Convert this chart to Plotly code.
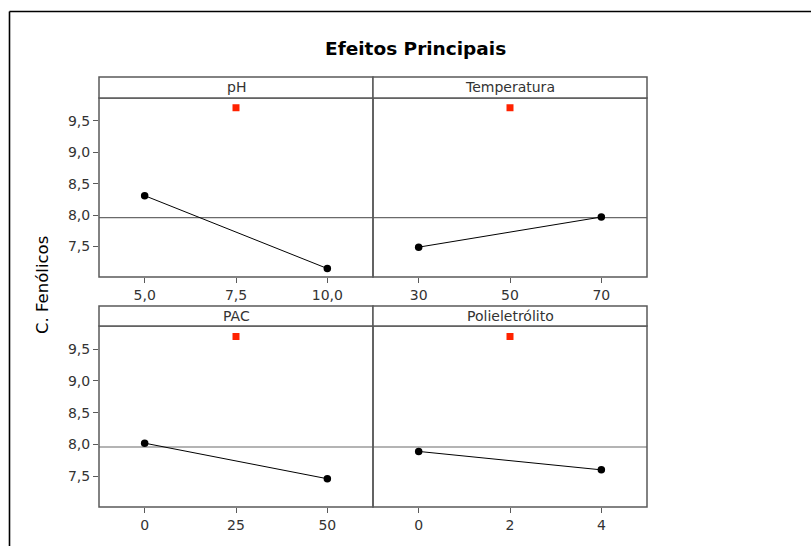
import plotly.graph_objects as go

# Main-effects data: factor levels, mean response at each level, centre-point mean
factors = ["pH", "Temperatura", "PAC", "Polieletrólito"]
ph_levels = [5.0, 10.0]
ph_means = [8.31, 7.15]
temp_levels = [30, 70]
temp_means = [7.49, 7.97]
pac_levels = [0, 50]
pac_means = [8.02, 7.46]
poli_levels = [0, 4]
poli_means = [7.89, 7.60]
center_x = [7.5, 50, 25, 2]
center_y = [9.71, 9.71, 9.70, 9.70]
grand_mean = 7.96

x_tickvals = [[5.0, 7.5, 10.0], [30, 50, 70], [0, 25, 50], [0, 2, 4]]
x_ticktext = [["5,0", "7,5", "10,0"], ["30", "50", "70"], ["0", "25", "50"], ["0", "2", "4"]]
y_tickvals = [7.5, 8.0, 8.5, 9.0, 9.5]
y_ticktext = ["7,5", "8,0", "8,5", "9,0", "9,5"]
y_label = "C. Fenólicos"
title = "Efeitos Principais"

levels = [ph_levels, temp_levels, pac_levels, poli_levels]
means = [ph_means, temp_means, pac_means, poli_means]

W, H = 811, 546
L, R, T, B = 99, 647, 77, 507  # pixel box holding all panels
pw, ph = R - L, B - T


def px_x(x):
    return (x - L) / pw


def px_y(y):
    return (B - y) / ph


col_dom = [[0.0, px_x(373)], [px_x(373), 1.0]]
row_plot = [[px_y(277), px_y(98)], [0.0, px_y(326)]]
row_strip = [[px_y(98), px_y(77)], [px_y(326), px_y(306)]]

FONT = "DejaVu Sans"
AX = "#5a5a5a"
TXT = "#333333"

fig = go.Figure()
layout = dict(
    width=W, height=H,
    margin=dict(l=L, r=W - R, t=T, b=H - B, pad=0),
    paper_bgcolor="white", plot_bgcolor="white",
    showlegend=False,
    font=dict(family=FONT, color=TXT),
)
shapes, annotations = [], []

for i in range(4):
    r, c = divmod(i, 2)
    n = i + 1
    xa, ya = f"x{n}" if n > 1 else "x", f"y{n}" if n > 1 else "y"
    lo, hi = levels[i][0], levels[i][-1]
    span = hi - lo
    layout[f"xaxis{n}" if n > 1 else "xaxis"] = dict(
        domain=col_dom[c], anchor=ya, range=[lo - 0.25 * span, hi + 0.25 * span],
        tickvals=x_tickvals[i], ticktext=x_ticktext[i],
        ticks="outside", ticklen=5, tickcolor=AX, tickwidth=1,
        showline=False, showgrid=False, zeroline=False, fixedrange=True,
        tickfont=dict(family=FONT, size=14, color=TXT),
    )
    layout[f"yaxis{n}" if n > 1 else "yaxis"] = dict(
        domain=row_plot[r], anchor=xa, range=[7.015, 9.865],
        tickvals=y_tickvals, ticktext=y_ticktext,
        ticks="outside" if c == 0 else "", ticklen=5, tickcolor=AX, tickwidth=1,
        showticklabels=(c == 0),
        showline=False, showgrid=False, zeroline=False, fixedrange=True,
        tickfont=dict(family=FONT, size=14, color=TXT),
    )
    # grand-mean reference line
    shapes.append(dict(type="line", xref=f"{xa} domain", yref=ya,
                       x0=0, x1=1, y0=grand_mean, y1=grand_mean,
                       line=dict(color="#6a6a6a", width=1.2), layer="below"))
    # panel border
    shapes.append(dict(type="rect", xref=f"{xa} domain", yref=f"{ya} domain",
                       x0=0, x1=1, y0=0, y1=1,
                       line=dict(color=AX, width=1.5)))
    # factor-level means
    fig.add_trace(go.Scatter(
        x=levels[i], y=means[i], xaxis=xa, yaxis=ya, mode="lines+markers",
        line=dict(color="black", width=1),
        marker=dict(color="black", size=7.5, symbol="circle"),
        cliponaxis=False,
    ))
    # centre point
    fig.add_trace(go.Scatter(
        x=[center_x[i]], y=[center_y[i]], xaxis=xa, yaxis=ya, mode="markers",
        marker=dict(color="#ff2200", size=7, symbol="square", line=dict(width=0)),
    ))
    # strip header with factor name
    shapes.append(dict(type="rect", xref="paper", yref="paper",
                       x0=col_dom[c][0], x1=col_dom[c][1],
                       y0=row_strip[r][0], y1=row_strip[r][1],
                       line=dict(color=AX, width=1.5), fillcolor="white"))
    annotations.append(dict(text=factors[i], xref="paper", yref="paper",
                            x=(col_dom[c][0] + col_dom[c][1]) / 2,
                            y=(row_strip[r][0] + row_strip[r][1]) / 2,
                            xanchor="center", yanchor="middle", showarrow=False,
                            font=dict(family=FONT, size=14, color=TXT)))

# outer frame (top and left edges)
shapes.append(dict(type="line", xref="paper", yref="paper",
                   x0=px_x(9.5), x1=px_x(W + 5), y0=px_y(11.5), y1=px_y(11.5),
                   line=dict(color="black", width=1.6)))
shapes.append(dict(type="line", xref="paper", yref="paper",
                   x0=px_x(9.5), x1=px_x(9.5), y0=px_y(11.5), y1=px_y(H + 5),
                   line=dict(color="black", width=1.6)))

annotations.append(dict(text=title, xref="paper", yref="paper",
                        x=px_x(415), y=px_y(49), xanchor="center", yanchor="middle",
                        showarrow=False,
                        font=dict(family=FONT, size=18.5, color="black", weight="bold")))
annotations.append(dict(text=y_label, xref="paper", yref="paper",
                        x=px_x(42), y=px_y(285), xanchor="center", yanchor="middle",
                        textangle=-90, showarrow=False,
                        font=dict(family=FONT, size=16.5, color="black")))

layout["shapes"] = shapes
layout["annotations"] = annotations
fig.update_layout(**layout)
fig.write_html("out.html")
